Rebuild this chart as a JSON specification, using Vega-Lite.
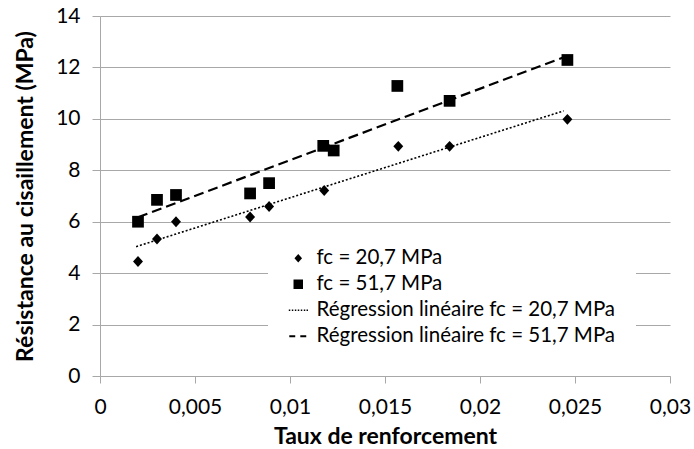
{
  "$schema": "https://vega.github.io/schema/vega-lite/v6.json",
  "width": 570,
  "height": 360,
  "autosize": {"type": "none"},
  "padding": {"left": 100, "top": 16, "right": 24, "bottom": 73},
  "background": "white",
  "config": {
    "view": {"stroke": null},
    "font": "Lato",
    "axis": {
      "labelFont": "Lato",
      "labelFontSize": 21,
      "labelColor": "#000000",
      "titleFont": "Lato",
      "titleFontSize": 23,
      "titleFontWeight": "bold",
      "titleColor": "#000000",
      "domainColor": "#a8a8a8",
      "tickColor": "#a8a8a8",
      "gridColor": "#a8a8a8",
      "domainWidth": 1,
      "tickWidth": 1,
      "gridWidth": 1
    }
  },
  "datasets": {
    "points": [
      {"series": "fc = 20,7 MPa", "taux": 0.0020, "res": 4.45},
      {"series": "fc = 20,7 MPa", "taux": 0.0030, "res": 5.33},
      {"series": "fc = 20,7 MPa", "taux": 0.0040, "res": 6.0},
      {"series": "fc = 20,7 MPa", "taux": 0.0079, "res": 6.18},
      {"series": "fc = 20,7 MPa", "taux": 0.0089, "res": 6.59},
      {"series": "fc = 20,7 MPa", "taux": 0.0118, "res": 7.21},
      {"series": "fc = 20,7 MPa", "taux": 0.0157, "res": 8.93},
      {"series": "fc = 20,7 MPa", "taux": 0.0184, "res": 8.93},
      {"series": "fc = 20,7 MPa", "taux": 0.0246, "res": 9.98},
      {"series": "fc = 51,7 MPa", "taux": 0.0020, "res": 6.0},
      {"series": "fc = 51,7 MPa", "taux": 0.0030, "res": 6.85},
      {"series": "fc = 51,7 MPa", "taux": 0.0040, "res": 7.04},
      {"series": "fc = 51,7 MPa", "taux": 0.0079, "res": 7.1},
      {"series": "fc = 51,7 MPa", "taux": 0.0089, "res": 7.5},
      {"series": "fc = 51,7 MPa", "taux": 0.01175, "res": 8.95},
      {"series": "fc = 51,7 MPa", "taux": 0.0123, "res": 8.77},
      {"series": "fc = 51,7 MPa", "taux": 0.01565, "res": 11.28},
      {"series": "fc = 51,7 MPa", "taux": 0.0184, "res": 10.7},
      {"series": "fc = 51,7 MPa", "taux": 0.0246, "res": 12.29}
    ],
    "lines": [
      {"series": "Régression linéaire fc = 20,7 MPa", "taux": 0.0019, "res": 5.03},
      {"series": "Régression linéaire fc = 20,7 MPa", "taux": 0.0244, "res": 10.31},
      {"series": "Régression linéaire fc = 51,7 MPa", "taux": 0.0020, "res": 6.17},
      {"series": "Régression linéaire fc = 51,7 MPa", "taux": 0.0246, "res": 12.45}
    ]
  },
  "layer": [
    {
      "data": {"name": "lines"},
      "mark": {"type": "line", "color": "#000000"},
      "encoding": {
        "x": {"field": "taux", "type": "quantitative"},
        "y": {"field": "res", "type": "quantitative"},
        "strokeDash": {
          "field": "series",
          "type": "nominal",
          "scale": {
            "domain": ["Régression linéaire fc = 20,7 MPa", "Régression linéaire fc = 51,7 MPa"],
            "range": [[2, 2], [10, 5]]
          },
          "legend": null
        },
        "strokeWidth": {
          "field": "series",
          "type": "nominal",
          "scale": {
            "domain": ["Régression linéaire fc = 20,7 MPa", "Régression linéaire fc = 51,7 MPa"],
            "range": [1.6, 2.2]
          },
          "legend": null
        }
      }
    },
    {
      "data": {"name": "points"},
      "mark": {"type": "point", "filled": true, "color": "#000000", "opacity": 1},
      "encoding": {
        "x": {
          "field": "taux",
          "type": "quantitative",
          "title": "Taux de renforcement",
          "scale": {"domain": [0, 0.03], "nice": false, "zero": false},
          "axis": {
            "values": [0, 0.005, 0.01, 0.015, 0.02, 0.025, 0.03],
            "labelExpr": "replace(format(datum.value, ''), '.', ',')",
            "grid": false,
            "tickSize": 7,
            "labelPadding": 13,
            "titlePadding": 8,
            "labelFlush": false
          }
        },
        "y": {
          "field": "res",
          "type": "quantitative",
          "title": "Résistance au cisaillement (MPa)",
          "scale": {"domain": [0, 14], "nice": false},
          "axis": {
            "values": [0, 2, 4, 6, 8, 10, 12, 14],
            "grid": true,
            "tickSize": 8,
            "labelPadding": 12,
            "titlePadding": 18
          }
        },
        "shape": {
          "field": "series",
          "type": "nominal",
          "scale": {
            "domain": ["fc = 20,7 MPa", "fc = 51,7 MPa", "Régression linéaire fc = 20,7 MPa", "Régression linéaire fc = 51,7 MPa"],
            "range": [
              "M-0.39,0L0,-0.43L0.39,0L0,0.43Z",
              "M-0.487,-0.487H0.487V0.487H-0.487Z",
              "M-0.97,-0.07h0.15v0.14h-0.15Z M-0.66,-0.07h0.15v0.14h-0.15Z M-0.35,-0.07h0.15v0.14h-0.15Z M-0.05,-0.07h0.15v0.14h-0.15Z M0.26,-0.07h0.15v0.14h-0.15Z M0.57,-0.07h0.15v0.14h-0.15Z M0.85,-0.07h0.15v0.14h-0.15Z",
              "M-0.92,-0.09H-0.31V0.09H-0.92Z M0.21,-0.09H0.82V0.09H0.21Z"
            ]
          },
          "legend": {
            "title": null,
            "orient": "none",
            "legendX": 168,
            "legendY": 212,
            "padding": 20,
            "fillColor": "white",
            "labelFont": "Lato",
            "labelFontSize": 20.5,
            "labelColor": "#000000",
            "labelLimit": 500,
            "labelOffset": 8,
            "rowPadding": 5,
            "symbolSize": 380,
            "symbolFillColor": "#000000",
            "symbolStrokeWidth": 0,
            "symbolOpacity": 1
          }
        },
        "size": {
          "field": "series",
          "type": "nominal",
          "scale": {"domain": ["fc = 20,7 MPa", "fc = 51,7 MPa"], "range": [650, 580]},
          "legend": null
        }
      }
    }
  ]
}
